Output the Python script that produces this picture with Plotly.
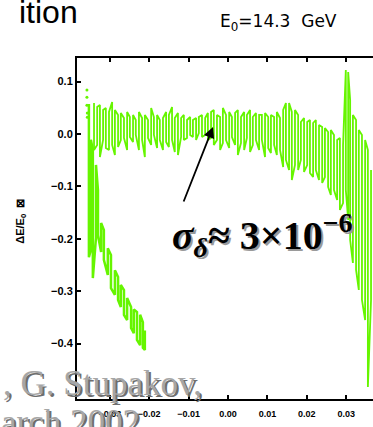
import plotly.graph_objects as go

# ---- data ----
main_x = [-0.0340, -0.0332, -0.0325, -0.0317, -0.0310, -0.0302, -0.0294, -0.0287, -0.0279, -0.0272,
          -0.0264, -0.0256, -0.0249, -0.0241, -0.0234, -0.0226, -0.0218, -0.0211, -0.0203, -0.0195,
          -0.0188, -0.0180, -0.0173, -0.0165, -0.0157, -0.0150, -0.0142, -0.0135, -0.0127, -0.0119,
          -0.0112, -0.0104, -0.0096, -0.0089, -0.0081, -0.0074, -0.0066, -0.0058, -0.0051, -0.0043,
          -0.0036, -0.0028, -0.0020, -0.0013, -0.0005, 0.0003, 0.0010, 0.0018, 0.0025, 0.0033,
          0.0041, 0.0048, 0.0056, 0.0063, 0.0071, 0.0079, 0.0086, 0.0094, 0.0102, 0.0109,
          0.0117, 0.0124, 0.0132, 0.0140, 0.0147, 0.0155, 0.0162, 0.0170, 0.0178, 0.0185,
          0.0193, 0.0201, 0.0208, 0.0216, 0.0223, 0.0231, 0.0239, 0.0246, 0.0254, 0.0261,
          0.0269, 0.0277, 0.0284, 0.0292, 0.0299, 0.0305, 0.0310, 0.0317, 0.0325, 0.0332,
          0.0340, 0.0348, 0.0355, 0.0363]
main_hi = [0.0592, 0.0515, 0.0553, 0.0458, 0.0496, 0.0420, 0.0611, 0.0458, 0.0363, 0.0401,
           0.0305, 0.0420, 0.0324, 0.0363, 0.0267, 0.0420, 0.0305, 0.0363, 0.0267, 0.0496,
           0.0324, 0.0363, 0.0267, 0.0305, 0.0420, 0.0363, 0.0515, 0.0305, 0.0401, 0.0305,
           0.0363, 0.0267, 0.0324, 0.0267, 0.0305, 0.0324, 0.0363, 0.0305, 0.0401, 0.0420,
           0.0458, 0.0363, 0.0324, 0.0496, 0.0363, 0.0420, 0.0324, 0.0401, 0.0458, 0.0324,
           0.0420, 0.0363, 0.0458, 0.0324, 0.0401, 0.0363, 0.0363, 0.0401, 0.0324, 0.0363,
           0.0324, 0.0420, 0.0305, 0.0458, 0.0592, 0.0592, 0.0420, 0.0458, 0.0363, 0.0229,
           0.0305, 0.0229, 0.0267, 0.0210, 0.0267, 0.0172, 0.0134, 0.0115, 0.0038, 0.0076,
           -0.0019, -0.0115, -0.0076, -0.0210, 0.1221, 0.1183, 0.0649, 0.0363, 0.0267, 0.0076,
           -0.0019, -0.0115, -0.0305, -0.0687]
main_lo = [-0.0305, -0.0210, -0.0439, -0.0115, -0.0267, -0.0305, -0.0210, -0.0401, -0.0248, -0.0115,
           -0.0076, -0.0305, -0.0057, -0.0153, -0.0019, -0.0305, -0.0115, -0.0439, -0.0076, -0.0210,
           -0.0019, -0.0267, -0.0115, -0.0305, -0.0153, -0.0248, -0.0115, -0.0344, -0.0401, -0.0057,
           -0.0115, -0.0076, -0.0019, -0.0057, -0.0115, 0.0019, -0.0057, -0.0019, -0.0115, -0.0076,
           -0.0210, -0.0115, -0.0305, -0.0172, -0.0115, -0.0267, -0.0057, -0.0210, -0.0401, -0.0172,
           -0.0305, -0.0076, -0.0344, -0.0210, -0.0115, -0.0305, -0.0115, -0.0439, -0.0267, -0.0363,
           -0.0210, -0.0401, -0.0305, -0.0630, -0.0496, -0.0687, -0.0878, -0.0592, -0.0687, -0.0496,
           -0.0725, -0.0592, -0.0744, -0.0821, -0.0687, -0.0878, -0.0935, -0.0821, -0.1011, -0.1164,
           -0.1069, -0.1260, -0.1450, -0.1317, -0.1069, -0.1641, -0.2023, -0.2462, -0.2595, -0.2977,
           -0.3168, -0.3550, -0.4828, -0.3168]

branch_x = [-0.0353, -0.0348, -0.0343, -0.0335, -0.0330, -0.0322, -0.0315, -0.0305, -0.0297, -0.0287,
            -0.0279, -0.0272, -0.0264, -0.0256, -0.0246, -0.0239, -0.0231, -0.0223, -0.0216, -0.0211]
branch_hi = [0.057, -0.011, -0.030, -0.059, -0.107, -0.170, -0.183, -0.218, -0.231, -0.260,
             -0.273, -0.288, -0.298, -0.313, -0.330, -0.335, -0.340, -0.345, -0.359, -0.375]
branch_lo = [-0.235, -0.221, -0.275, -0.198, -0.193, -0.225, -0.240, -0.269, -0.294, -0.307,
             -0.317, -0.330, -0.345, -0.355, -0.370, -0.380, -0.393, -0.403, -0.408, -0.412]

dots_x = [-0.0358, -0.0358, -0.0358, -0.0357, -0.0357]
dots_y = [0.084, 0.070, 0.055, 0.040, 0.032]

x_ticks = [-0.03, -0.02, -0.01, 0.00, 0.01, 0.02, 0.03]
y_ticks = [-0.4, -0.3, -0.2, -0.1, 0.0, 0.1]

GREEN = "#66f500"


def zigzag(xs, his, los):
    X, Y = [], []
    for i, (x, h, l) in enumerate(zip(xs, his, los)):
        X += [x, x]
        Y += [h, l] if i % 2 == 0 else [l, h]
    return X, Y


fig = go.Figure()
mx, my = zigzag(main_x, main_hi, main_lo)
bx, by = zigzag(branch_x, branch_hi, branch_lo)
fig.add_trace(go.Scatter(x=mx, y=my, mode="lines", line=dict(color=GREEN, width=1.8), hoverinfo="skip"))
fig.add_trace(go.Scatter(x=bx, y=by, mode="lines", line=dict(color=GREEN, width=2.5), hoverinfo="skip"))
fig.add_trace(go.Scatter(x=dots_x, y=dots_y, mode="markers", marker=dict(color=GREEN, size=3), hoverinfo="skip"))

tickfont = dict(family="Liberation Sans", size=10, color="black", weight="bold")

fig.update_layout(
    width=373, height=427,
    margin=dict(l=77, r=0, t=58, b=28),
    paper_bgcolor="white", plot_bgcolor="white",
    showlegend=False,
    xaxis=dict(range=[-0.03832, 0.0368], tickvals=x_ticks, tickformat=".2f",
               showline=True, linecolor="black", linewidth=2, mirror="ticks",
               ticks="inside", ticklen=4, tickwidth=1.5, tickcolor="black",
               ticklabelstandoff=5,
               showgrid=False, zeroline=False, tickfont=dict(tickfont, size=9)),
    yaxis=dict(range=[-0.5057, 0.1450], tickvals=y_ticks, tickformat=".1f",
               showline=True, linecolor="black", linewidth=2, mirror=False,
               ticks="inside", ticklen=4, tickwidth=1.5, tickcolor="black",
               showgrid=False, zeroline=False, tickfont=dict(tickfont, size=11)),
)

ann = []
# slide title fragment
ann.append(dict(text="ition", xref="paper", yref="paper", x=0.010, y=1.135, xanchor="right", yanchor="middle",
                showarrow=False, font=dict(family="Liberation Sans", size=32, color="black")))
# plot title
ann.append(dict(text="E<sub>0</sub>=14.3  GeV", xref="paper", yref="paper", x=0.68, y=1.105,
                xanchor="center", yanchor="middle", showarrow=False,
                font=dict(family="DejaVu Sans", size=17, color="black")))
# y-axis title
ann.append(dict(text="ΔE/E<sub>0</sub>  ⊠", xref="paper", yref="paper", x=-0.19, y=0.522,
                xanchor="center", yanchor="middle", textangle=-90, showarrow=False,
                font=dict(family="Liberation Sans", size=11, color="black", weight="bold")))
# arrow
ann.append(dict(text="", x=-0.0038, y=0.0134, ax=-0.0114, ay=-0.1317, xref="x", yref="y",
                axref="x", ayref="y", showarrow=True, arrowhead=2, arrowsize=1.2, arrowwidth=1.8,
                arrowcolor="black"))
# sigma annotation with shadow
sig = "<i>σ<sub>δ</sub></i>≈ 3×10<sup>−6</sup>"
ann.append(dict(text=sig, xref="paper", yref="paper", x=0.632, y=0.474, xanchor="center", yanchor="middle",
                showarrow=False, font=dict(family="Liberation Serif", size=40, color="#9a9a9a", weight="bold")))
ann.append(dict(text=sig, xref="paper", yref="paper", x=0.625, y=0.480, xanchor="center", yanchor="middle",
                showarrow=False, font=dict(family="Liberation Serif", size=40, color="black", weight="bold")))
# gray footer text with shadow
for dx, dy, col in [(0.007, -0.006, "#6e6e6e"), (0.0, 0.0, "#a6a6a6")]:
    ann.append(dict(text=", G. Stupakov,", xref="paper", yref="paper", x=0.43 + dx, y=0.045 + dy,
                    xanchor="right", yanchor="middle", showarrow=False,
                    font=dict(family="Liberation Serif", size=35, color=col)))
    ann.append(dict(text="arch 2002", xref="paper", yref="paper", x=0.22 + dx, y=-0.005 + dy,
                    xanchor="right", yanchor="top", showarrow=False,
                    font=dict(family="Liberation Serif", size=35, color=col)))
fig.update_layout(annotations=ann)

fig.write_html("out.html", config={"displayModeBar": False},
               post_script="document.body.style.margin='0';document.body.style.overflow='hidden';")
